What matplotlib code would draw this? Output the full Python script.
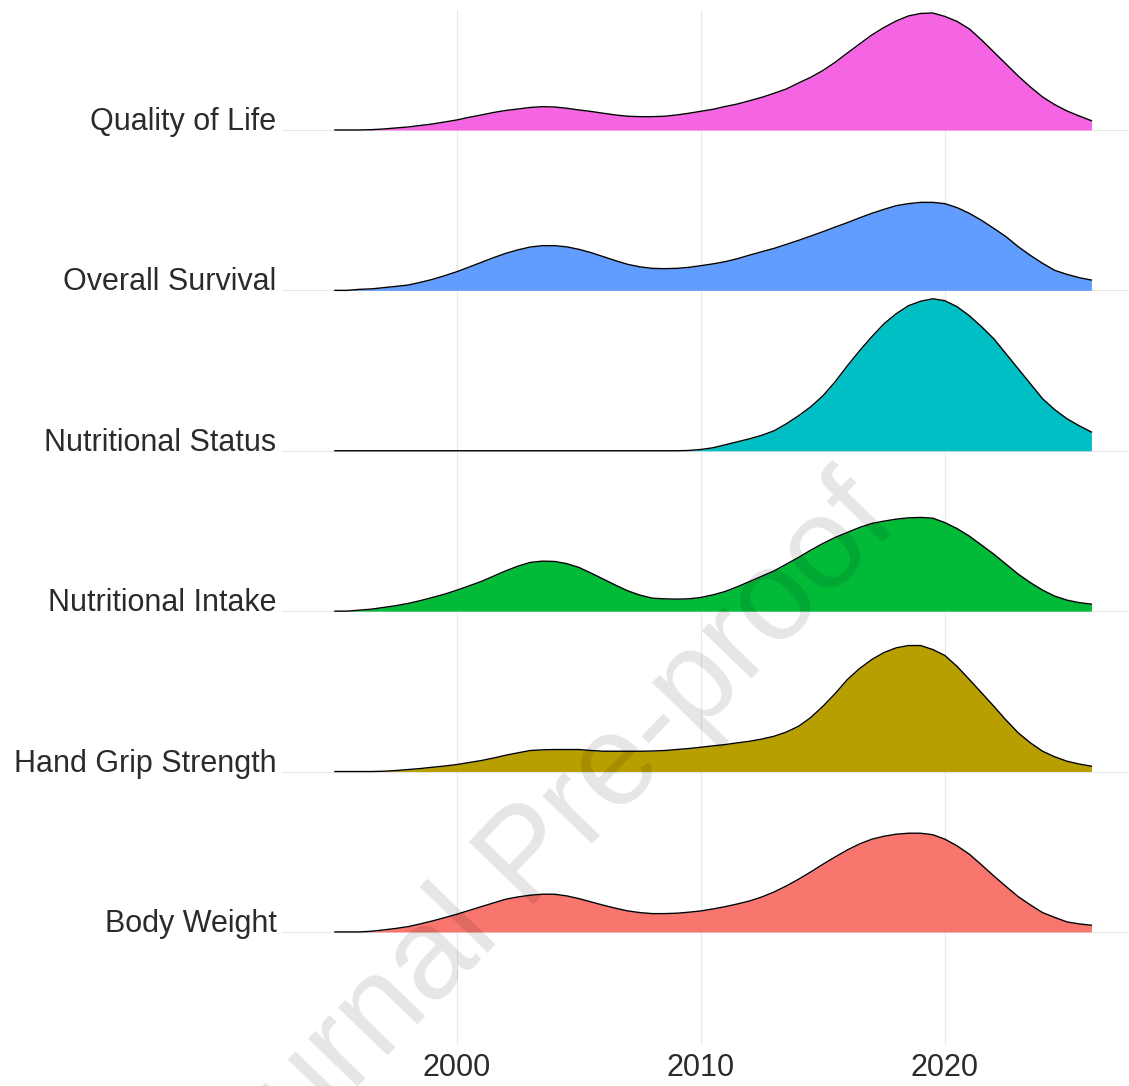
import numpy as np
import matplotlib
matplotlib.use("Agg")
import matplotlib.pyplot as plt

plt.rcParams['font.family'] = ['Liberation Sans', 'DejaVu Sans']

# publication years where the ridge curves are sampled (every half year)
years = np.arange(1995, 2026.25, 0.5)

# ridge heights per outcome, 1995 -> 2026 (px of a 160 px row)
body_weight = [0, 0, 0, 0.7, 2, 3.5, 5.3, 8, 11, 14.3,
               17.7, 21.5, 25.3, 29, 32.7, 35, 36.7, 37.7, 37.7, 36,
               33.3, 30, 26.7, 23.7, 21, 19.3, 18.3, 18.3, 18.7, 19.7,
               21, 23, 25.3, 28, 31, 35, 40, 46, 52.7, 60,
               67.7, 75, 82, 88, 92.7, 95.7, 97.7, 98.7, 98.7, 97.2,
               92.7, 86, 77.7, 67, 56, 45.5, 35.3, 27, 19.3, 14.5,
               10, 8, 6.7]
hand_grip = [0, 0, 0, 0, 0.3, 1, 2, 3, 4.3, 5.5,
             7, 9, 11, 13.5, 16.3, 18.7, 21, 21.7, 22, 22,
             22, 21, 20.3, 20.3, 20.3, 20.3, 20.5, 21, 22, 23,
             24.3, 25.7, 27, 28.7, 30.3, 32.5, 35.3, 39.5, 45.3, 54,
             65.3, 78, 92, 103, 112, 119, 123.7, 126, 126, 122,
             116, 105, 92, 78.7, 65.3, 51.5, 38.7, 28.7, 20.3, 14.7,
             10.3, 7.5, 5.3]
nutr_intake = [0, 0, 1, 2, 3.7, 5.5, 7.7, 10.5, 13.7, 17,
               21, 25.3, 29.7, 35, 40.3, 45, 48.7, 50, 49.7, 47.5,
               43.7, 38, 32, 26, 20.3, 16, 13, 12.3, 12, 12.3,
               13.7, 16.3, 19.7, 24.5, 29.7, 35, 40.3, 47, 53.7, 61,
               67.7, 73.7, 78.7, 83.7, 87.7, 90, 92, 93.3, 93.7, 93,
               88.5, 82.5, 75, 66, 57, 47, 37, 28.5, 21, 15,
               11, 8.5, 7]
nutr_status = [0, 0, 0, 0, 0, 0, 0, 0, 0, 0,
               0, 0, 0, 0, 0, 0, 0, 0, 0, 0,
               0, 0, 0, 0, 0, 0, 0, 0, 0, 0.3,
               1.3, 3, 6, 9, 12, 15.5, 20, 27, 35, 44,
               55, 69, 85, 100, 114, 127, 137, 145, 149.5, 152,
               150, 144, 135, 124, 112, 97, 82, 67, 52, 41,
               32, 25, 18.7]
survival = [0, 0, 1, 1.5, 2.7, 4, 5.3, 8, 11, 14.7,
            18.7, 23.3, 28, 32.7, 37, 40.5, 43.3, 44.7, 44.7, 43.5,
            41, 37.7, 33.7, 29.7, 26, 23.5, 22, 21.7, 22, 23,
            24.7, 26.5, 28.7, 31.7, 35.3, 38.7, 42, 46, 50, 54.3,
            58.7, 63.3, 67.7, 72.5, 77, 81, 84.7, 86.7, 88, 88,
            86.7, 82.7, 77, 70, 62, 53.7, 43.7, 35, 27, 20,
            16, 12.7, 10.3]
quality_life = [0, 0, 0, 0.3, 1, 2, 3, 4.5, 6, 8,
                10, 12.7, 15, 17.5, 19.5, 21, 22.5, 23.3, 23, 21.7,
                20, 18.5, 16.7, 15, 13.7, 13.3, 13.3, 13.7, 15, 16.7,
                18.7, 20.7, 23.5, 26, 29.3, 32.7, 36.7, 41, 47, 52.7,
                59.5, 67.7, 77, 86, 95, 102.5, 109, 114, 116.5, 117,
                113.5, 108.5, 101, 90, 78, 66, 54, 43, 33, 25.3,
                19, 14, 9.3]

labels = ['Body Weight', 'Hand Grip Strength', 'Nutritional Intake',
          'Nutritional Status', 'Overall Survival', 'Quality of Life']
series = [body_weight, hand_grip, nutr_intake, nutr_status, survival, quality_life]
colors = ['#F8766D', '#B79F00', '#00BA38', '#00BFC4', '#619CFF', '#F564E3']
row_px = 160.4

fig = plt.figure(figsize=(11.29, 10.86), dpi=100)
ax = fig.add_axes([282 / 1129, 1 - 1045 / 1086, 846 / 1129, 1035 / 1086])

for i, (vals, col) in enumerate(zip(series, colors)):
    h = np.array(vals) / row_px
    z = 10 - i
    ax.fill_between(years, i, i + h, color=col, lw=0, zorder=z)
    ax.plot(years, i + h, color='black', lw=1.0, zorder=z + 0.5)

ax.set_xlim(1992.83, 2027.5)
ax.set_ylim(-0.705, 5.748)
ax.set_xticks([2000, 2010, 2020])
ax.set_yticks(range(len(labels)))
ax.set_yticklabels(labels)
for t in ax.get_yticklabels():
    t.set_va('baseline')
ax.tick_params(axis='both', length=0, labelsize=22, labelcolor='#2b2b2b')
ax.tick_params(axis='y', pad=4)
ax.tick_params(axis='x', pad=6)
ax.grid(True, color='#E8E8E8', lw=0.8, zorder=0)
ax.set_axisbelow(True)
for s in ax.spines.values():
    s.set_visible(False)

# faint diagonal watermark across the panel
fig.text(530 / 1129, 1 - 860 / 1086, 'Journal Pre-proof', fontsize=93, rotation=46,
         color='black', alpha=0.1, ha='center', va='center', zorder=20)

fig.savefig('out.png', dpi=100)
